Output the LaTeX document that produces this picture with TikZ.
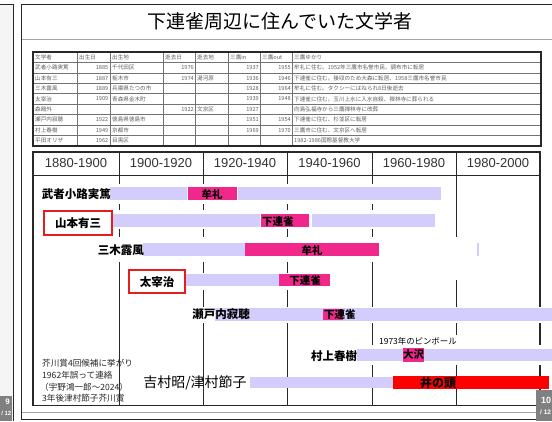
\documentclass[tikz,border=0pt]{standalone}
\usepackage{fontspec}
\setmainfont{Liberation Sans}
\newfontfamily\jp{Noto Sans CJK JP}
\definecolor{lav}{RGB}{210,205,250}
\definecolor{pinkbar}{RGB}{240,40,140}
\definecolor{redbar}{RGB}{255,0,0}
\definecolor{boxred}{RGB}{228,30,30}
\definecolor{tgray}{RGB}{95,95,95}
\definecolor{frame}{RGB}{40,40,40}
\tikzset{
  tl/.style={anchor=west, inner sep=0pt, font=\jp\fontsize{5.6}{6}\selectfont, text=tgray},
  tr/.style={anchor=east, inner sep=0pt, font=\jp\fontsize{5.6}{6}\selectfont, text=tgray},
  yr/.style={inner sep=0pt, font=\fontsize{13}{14}\selectfont, text=black!80},
  lbl/.style={inner sep=0pt, font=\jp\bfseries\fontsize{11.5}{12}\selectfont},
  bartxt/.style={inner sep=0pt, font=\jp\bfseries\fontsize{10.5}{11}\selectfont},
  note/.style={anchor=west, inner sep=0pt, font=\jp\fontsize{8.6}{9}\selectfont, text=black!85},
  redbox/.style={draw=boxred, line width=2pt},
  gridline/.style={draw=frame, line width=1pt},
  pagebox/.style={fill=black!50},
  pagetxt/.style={inner sep=0pt, text=white, font=\bfseries\fontsize{8}{8}\selectfont},
}
\newcommand\tabrow[9]{%
  \pgfmathsetmacro\yy{52+10.44*(#1+0.5)}%
  \node[tl] (r#1a) at (35,\yy) {#2};
  \node[tr] (r#1b) at (108.5,\yy) {#3};
  \node[tl] (r#1c) at (112,\yy) {#4};
  \node[tr] (r#1d) at (194,\yy) {#5};
  \node[tl] (r#1e) at (197,\yy) {#6};
  \node[tr] (r#1f) at (259,\yy) {#7};
  \node[tr] (r#1g) at (291,\yy) {#8};
  \node[tl] (r#1h) at (294,\yy) {#9};
}
\begin{document}
\begin{tikzpicture}[x=1pt,y=-1pt]
\useasboundingbox (0,0) rectangle (552,421);
\fill[white] (0,0) rectangle (552,421);
\begin{scope}
\clip (0,0) rectangle (552,421);
% previous slide sliver
\fill[black!4] (0,4) rectangle (13,421);
\draw[frame, line width=1.2pt] (0,4.5) -- (13.5,4.5) -- (13.5,421);
\fill[pagebox] (0,396) rectangle (12,421);
\node[pagetxt, anchor=east] (p9) at (10,402) {9};
\node[pagetxt, anchor=east, font=\bfseries\fontsize{6}{6}\selectfont] (p9b) at (11.5,413) {/ 12};
% main slide frame
\draw[frame, line width=1.2pt] (552,4.5) -- (21.5,4.5) -- (21.5,419.5) -- (552,419.5);
\draw[black!35, line width=1pt] (22,39.5) -- (552,39.5);
\draw[black!35, line width=0.8pt] (22,412) -- (552,412);
% title
\node (title) at (280,21) {\jp\fontsize{19}{20}\selectfont 下連雀周辺に住んでいた文学者};
% top table
\foreach \i in {1,...,8} \draw[black!55, line width=0.6pt] (33,52+10.44*\i) -- (541,52+10.44*\i);
\foreach \x in {77,110,163,195,228,260,292} \draw[black!55, line width=0.6pt] (\x,52) -- (\x,146);
\draw[frame, line width=1.2pt] (33,52) rectangle (541,146);
\draw[frame, line width=1.6pt] (541,52.5) -- (541,146) -- (33.5,146);
\tabrow{0}{文学者}{}{}{}{}{}{}{三鷹ゆかり}
\node[tl] (h1) at (79,57.2) {出生日};
\node[tl] (h2) at (112,57.2) {出生地};
\node[tl] (h3) at (165,57.2) {逝去日};
\node[tl] (h4) at (197,57.2) {逝去地};
\node[tl] (h5) at (230,57.2) {三鷹in};
\node[tl] (h6) at (262,57.2) {三鷹out};
\tabrow{1}{武者小路実篤}{1885}{千代田区}{1976}{}{1937}{1955}{牟礼に住む。1952年三鷹市名誉市民、調布市に転居}
\tabrow{2}{山本有三}{1887}{栃木市}{1974}{湯河原}{1936}{1946}{下連雀に住む。接収のため大森に転居、1958三鷹市名誉市民}
\tabrow{3}{三木露風}{1889}{兵庫県たつの市}{}{}{1928}{1964}{牟礼に住む。タクシーにはねられ8日後逝去}
\tabrow{4}{太宰治}{1909}{青森県金木町}{}{}{1939}{1948}{下連雀に住む。玉川上水に入水自殺、禅林寺に葬られる}
\tabrow{5}{森鴎外}{}{}{1922}{文京区}{1927}{}{向島弘福寺から三鷹禅林寺に改葬}
\tabrow{6}{瀬戸内寂聴}{1922}{徳島県徳島市}{}{}{1951}{1954}{下連雀に住む、杉並区に転居}
\tabrow{7}{村上春樹}{1949}{京都市}{}{}{1969}{1970}{三鷹市に住む、文京区へ転居}
\tabrow{8}{平田オリザ}{1962}{目黒区}{}{}{}{}{1982-1986国際基督教大学}
% timeline table
\foreach \x in {119,203,287,372,456} \draw[gridline] (\x,152) -- (\x,405.5);
\draw[gridline] (33,175) -- (540,175);
\draw[frame, line width=1.3pt] (33,152) rectangle (540,405.5);
\node[yr] (y1) at (76,163.5) {1880-1900};
\node[yr] (y2) at (161,163.5) {1900-1920};
\node[yr] (y3) at (245,163.5) {1920-1940};
\node[yr] (y4) at (329.5,163.5) {1940-1960};
\node[yr] (y5) at (414,163.5) {1960-1980};
\node[yr] (y6) at (498,163.5) {1980-2000};
% white bands hiding grid lines
\fill[white] (40,184) rectangle (442,204);
\fill[white] (40,210) rectangle (437,229);
\fill[white] (95,237) rectangle (480,262);
\fill[white] (440,237) rectangle (480,280);
\fill[white] (127,273) rectangle (332,290);
\fill[white] (190,307) rectangle (552,323);
\fill[white] (300,345) rectangle (552,365);
\fill[white] (376,335) rectangle (466,347);
% row 1
\fill[lav] (110,187) rectangle (187,200);
\fill[pinkbar] (188,187) rectangle (237,200);
\fill[lav] (238,187) rectangle (441,200);
\node[lbl, anchor=east] (mushakoji) at (111,194) {武者小路実篤};
\node[bartxt] (mure1) at (212,194) {牟礼};
% row 2
\draw[redbox] (44,211) rectangle (112,235);
\node[lbl] (yamamoto) at (78,223) {山本有三};
\fill[lav] (113,214) rectangle (260,227);
\fill[pinkbar] (261,214) rectangle (309,227);
\fill[lav] (312,214) rectangle (435,227);
\node[bartxt, anchor=west] (shimo1) at (262,221) {下連雀};
% row 3
\fill[lav] (143,243) rectangle (245,256);
\fill[pinkbar] (245,243) rectangle (379,256);
\fill[lav] (477,243) rectangle (479,256);
\node[lbl, anchor=east] (miki) at (144,250) {三木露風};
\node[bartxt] (mure2) at (312,250) {牟礼};
% row 4
\draw[redbox] (129,270) rectangle (185,293);
\node[lbl] (dazai) at (157,282) {太宰治};
\fill[lav] (186,274) rectangle (279,286);
\fill[pinkbar] (279,274) rectangle (330,286);
\node[bartxt] (shimo2) at (305,280) {下連雀};
% row 5
\fill[lav] (215,308) rectangle (552,321);
\fill[pinkbar] (323,309) rectangle (343,320);
\node[lbl] (setouchi) at (221,314) {瀬戸内寂聴};
\node[bartxt, anchor=west] (shimo3) at (324,314.5) {下連雀};
% row 6
\fill[lav] (357,349) rectangle (552,361);
\fill[pinkbar] (403,348) rectangle (424,362);
\node[lbl] (murakami) at (334,356) {村上春樹};
\node[bartxt] (osawa) at (413.5,355) {大沢};
\node[anchor=west, inner sep=0pt, font=\jp\fontsize{8.4}{9}\selectfont] (pinball) at (379,341) {1973年のピンボール};
% row 7
\fill[lav] (250,377) rectangle (393,388);
\fill[redbar] (393,376) rectangle (549,389);
\node[inner sep=0pt, font=\jp\fontsize{14}{15}\selectfont] (yoshimura) at (195,383) {吉村昭/津村節子};
\node[bartxt, font=\jp\bfseries\fontsize{12}{12}\selectfont] (inokashira) at (438,383) {井の頭};
% note
\node[note] (n1) at (42,363) {芥川賞4回候補に挙がり};
\node[note] (n2) at (42,375.5) {1962年誤って連絡};
\node[note] (n3) at (40,387) {（宇野鴻一郎～2024）};
\node[note] (n4) at (42,398.5) {3年後津村節子芥川賞};
% page label right
\fill[pagebox] (536,390) rectangle (552,421);
\node[pagetxt, anchor=west, font=\bfseries\fontsize{9}{9}\selectfont] (p10) at (541,400) {10};
\node[pagetxt, anchor=west, font=\bfseries\fontsize{6.5}{6.5}\selectfont] (p10b) at (540,412) {/ 12};
\end{scope}
\end{tikzpicture}
\end{document}
